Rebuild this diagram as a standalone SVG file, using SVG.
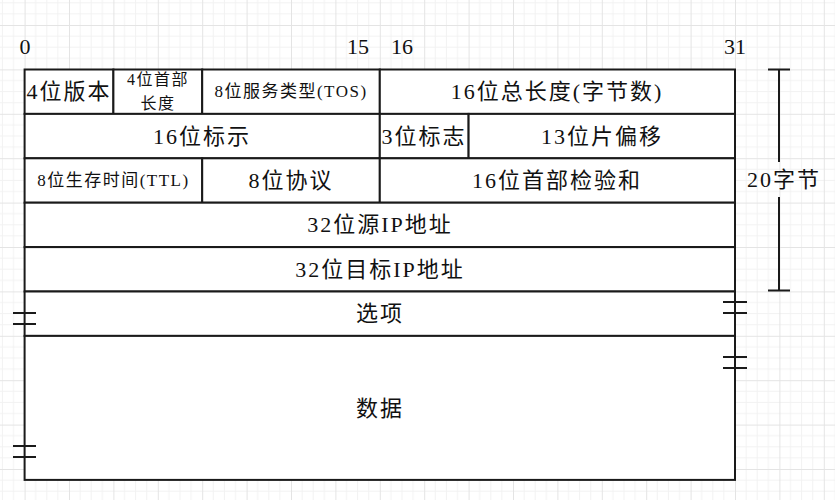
<svg xmlns="http://www.w3.org/2000/svg" width="835" height="500" viewBox="0 0 835 500">
<defs>
<pattern id="grid" patternUnits="userSpaceOnUse" x="24.6" y="25" width="44.4" height="44.4">
<path d="M11.1 0V44.4M22.2 0V44.4M33.3 0V44.4M0 11.1H44.4M0 22.2H44.4M0 33.3H44.4" stroke="#f2f2f2" stroke-width="1" fill="none"/>
<path d="M0.5 0V44.4M0 0.5H44.4" stroke="#e4e4e4" stroke-width="1" fill="none"/>
</pattern>
<style>
.cell{fill:#fff;stroke:#1a1a1a;stroke-width:2}
.ln{stroke:#1a1a1a;stroke-width:2;fill:none}
text{font-family:"Liberation Serif","Noto Sans CJK SC",serif;fill:#111;text-anchor:middle;dominant-baseline:central}
.big{font-size:22px;letter-spacing:2px}
.mid{font-size:17px;letter-spacing:1.5px}
.sm{font-size:16px;letter-spacing:1.5px}
.bit{font-size:22px}
</style>
</defs>
<rect width="835" height="500" fill="#fff"/>
<rect width="835" height="500" fill="url(#grid)"/>

<g id="bits">
<text class="bit" x="25" y="46">0</text>
<text class="bit" x="358" y="46">15</text>
<text class="bit" x="402" y="46">16</text>
<text class="bit" x="735" y="46">31</text>
</g>

<g id="version"><rect class="cell" x="24.6" y="69.5" width="88.8" height="44.4"/><text class="big" x="69" y="91.7">4位版本</text></g>
<g id="ihl"><rect class="cell" x="113.4" y="69.5" width="88.8" height="44.4"/><text class="sm" x="158" y="79">4位首部</text><text class="sm" x="158" y="103">长度</text></g>
<g id="tos"><rect class="cell" x="202.2" y="69.5" width="177.6" height="44.4"/><text class="mid" x="291" y="91.7">8位服务类型(TOS)</text></g>
<g id="total-length"><rect class="cell" x="379.8" y="69.5" width="355.2" height="44.4"/><text class="big" x="557" y="91.7">16位总长度(字节数)</text></g>

<g id="identification"><rect class="cell" x="24.6" y="113.9" width="355.2" height="44.4"/><text class="big" x="202" y="136.1">16位标示</text></g>
<g id="flags"><rect class="cell" x="379.8" y="113.9" width="88.8" height="44.4"/><text class="big" x="424" y="136.1">3位标志</text></g>
<g id="fragment-offset"><rect class="cell" x="468.6" y="113.9" width="266.4" height="44.4"/><text class="big" x="602" y="136.1">13位片偏移</text></g>

<g id="ttl"><rect class="cell" x="24.6" y="158.3" width="177.6" height="44.4"/><text class="mid" x="113.4" y="180.5">8位生存时间(TTL)</text></g>
<g id="protocol"><rect class="cell" x="202.2" y="158.3" width="177.6" height="44.4"/><text class="big" x="291" y="180.5">8位协议</text></g>
<g id="checksum"><rect class="cell" x="379.8" y="158.3" width="355.2" height="44.4"/><text class="big" x="557" y="180.5">16位首部检验和</text></g>

<g id="src"><rect class="cell" x="24.6" y="202.7" width="710.4" height="44.4"/><text class="big" x="380" y="224.9">32位源IP地址</text></g>
<g id="dst"><rect class="cell" x="24.6" y="247.1" width="710.4" height="44.4"/><text class="big" x="380" y="269.3">32位目标IP地址</text></g>
<g id="options"><rect class="cell" x="24.6" y="291.5" width="710.4" height="44.4"/><text class="big" x="380" y="313.7">选项</text></g>
<g id="data"><rect class="cell" x="24.6" y="335.9" width="710.4" height="144"/><text class="big" x="380" y="408">数据</text></g>

<g id="connectors">
<path class="ln" d="M13 313H36M13 324H36M13 446H36M13 457H36"/>
<path class="ln" d="M723 302H747M723 313H747M723 357H747M723 368H747"/>
<path class="ln" d="M768 69.5H790M779 69.5V162M779 197V290.5M768 290.5H790"/>
</g>
<g id="size-label"><text class="big" x="784" y="179">20字节</text></g>
</svg>
